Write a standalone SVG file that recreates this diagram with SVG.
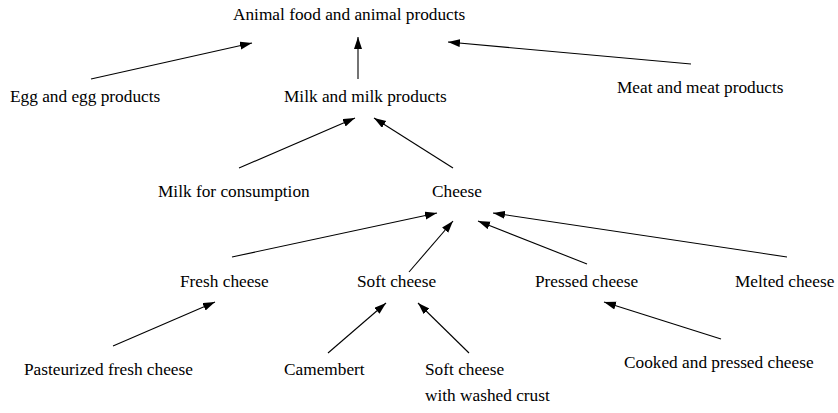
<svg xmlns="http://www.w3.org/2000/svg" width="838" height="413" viewBox="0 0 838 413">
<style>
text { font-family: "Liberation Serif", "Times New Roman", serif; font-size: 17.3px; fill: #000; }
.edge { stroke: #000; stroke-width: 1.1; fill: none; marker-end: url(#ah); }
</style>
<defs>
<marker id="ah" markerUnits="userSpaceOnUse" markerWidth="13" markerHeight="9" refX="12" refY="4" orient="auto">
<path d="M0,0 L12,4 L0,8 z" fill="#000"/>
</marker>
</defs>
<rect width="838" height="413" fill="#fff"/>
<g id="connectors">
<line class="edge" x1="91" y1="79" x2="252" y2="43"/>
<line class="edge" x1="358" y1="79" x2="358" y2="37"/>
<line class="edge" x1="691" y1="64" x2="448" y2="42"/>
<line class="edge" x1="239" y1="168" x2="355" y2="118"/>
<line class="edge" x1="453" y1="168" x2="374" y2="118"/>
<line class="edge" x1="232" y1="257" x2="437" y2="213"/>
<line class="edge" x1="409" y1="272" x2="453" y2="221"/>
<line class="edge" x1="587" y1="264" x2="478" y2="221"/>
<line class="edge" x1="787" y1="257" x2="493" y2="213"/>
<line class="edge" x1="113" y1="346" x2="215" y2="302"/>
<line class="edge" x1="328" y1="353" x2="386" y2="303"/>
<line class="edge" x1="469" y1="353" x2="418" y2="303"/>
<line class="edge" x1="721" y1="339" x2="604" y2="302"/>
</g>
<g id="animal"><text x="233" y="20">Animal food and animal products</text></g>
<g id="egg"><text x="10" y="102">Egg and egg products</text></g>
<g id="milk"><text x="284" y="102">Milk and milk products</text></g>
<g id="meat"><text x="617" y="93">Meat and meat products</text></g>
<g id="milkcons"><text x="158" y="197">Milk for consumption</text></g>
<g id="cheese"><text x="432" y="197">Cheese</text></g>
<g id="fresh"><text x="180" y="287">Fresh cheese</text></g>
<g id="soft"><text x="357" y="287">Soft cheese</text></g>
<g id="pressed"><text x="535" y="287">Pressed cheese</text></g>
<g id="melted"><text x="735" y="287">Melted cheese</text></g>
<g id="pasteurized"><text x="24" y="375">Pasteurized fresh cheese</text></g>
<g id="camembert"><text x="284" y="375">Camembert</text></g>
<g id="softwashed"><text x="425" y="375">Soft cheese</text><text x="425" y="401">with washed crust</text></g>
<g id="cooked"><text x="624" y="368">Cooked and pressed cheese</text></g>
</svg>
